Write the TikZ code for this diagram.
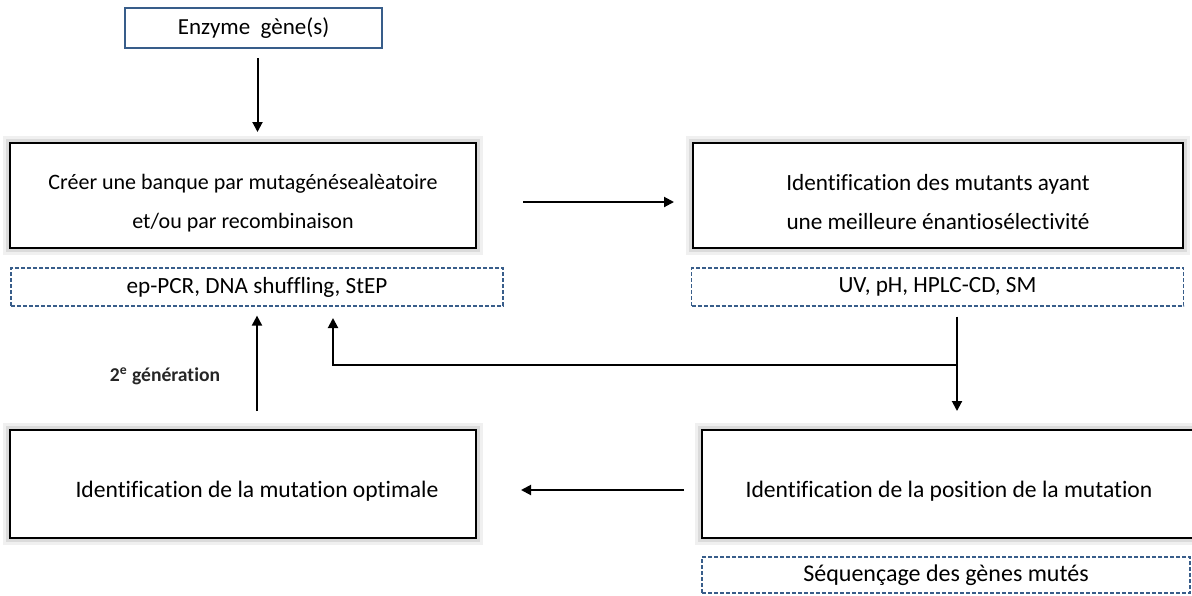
\documentclass[tikz,border=0pt]{standalone}
\usepackage{fontspec}
\setmainfont{Carlito}[Ligatures=NoCommon]
\usetikzlibrary{arrows.meta,positioning}
\definecolor{xnavy}{RGB}{56,93,138}
\newcommand{\lowtext}{\rule{0pt}{15pt}}

\begin{document}
\begin{tikzpicture}[x=0.5pt, y=-0.5pt,
  box/.style={draw=black, line width=1pt, fill=white, inner sep=0pt,
              minimum width=233pt, minimum height=52.5pt,
              font=\fontsize{11.8}{19.5}\selectfont, align=center,
              preaction={draw=black!6, line width=7pt},
              preaction={draw=black!14, line width=4pt}},
  gene/.style={draw=xnavy, line width=1pt, fill=white, inner sep=0pt,
               minimum width=128.5pt, minimum height=20pt,
               font=\fontsize{11.5}{13}\selectfont},
  tech/.style={draw=xnavy, line width=0.6pt, dash pattern=on 2pt off 1pt,
               inner sep=0pt, minimum width=246pt, minimum height=19pt,
               font=\fontsize{11.6}{13}\selectfont},
  arr/.style={-{Triangle[length=5pt, width=5pt]}, line width=1pt, color=black},
  note/.style={font=\fontsize{9.8}{11}\selectfont\bfseries, color=black!85}
]
  \useasboundingbox (0,0) rectangle (1192,595);

  \node[gene] (enz)     at (253.5,28)  {Enzyme\ \ gène(s)};
  \node[box, font=\fontsize{11}{19.5}\selectfont] (lib) at (243,195.5) {\lowtext Créer une banque par mutagénésealèatoire\\et/ou par recombinaison};
  \node[box, minimum width=245pt, font=\fontsize{11.6}{19.5}\selectfont] (scr) at (938,195.5) {\lowtext Identification des mutants ayant\\une meilleure énantiosélectivité};
  \node[tech] (libtech) at (257,287)   {ep-PCR, DNA shuffling, StEP};
  \node[tech] (scrtech) at (937.5,287) {UV, pH, HPLC-CD, SM};
  \node[box, minimum height=54pt] (opt) at (243,484) {\lowtext\hspace*{14pt}Identification de la mutation optimale};
  \node[box, minimum width=247pt, minimum height=54pt] (pos) at (949,484) {\lowtext Identification de la position de la mutation};
  \node[tech, minimum width=244pt, minimum height=18pt, font=\fontsize{12}{13}\selectfont] (seqtech) at (946,575) {Séquençage des gènes mutés};
  \node[note] (gen2)    at (165,376)   {2\textsuperscript{e} génération};
  \coordinate (split) at (957,365);
  \coordinate (back)  at (333,318);

  \draw[arr, shorten <=4.5pt, shorten >=5pt] ([xshift=2pt]enz.south) -- ([xshift=2pt]enz.south |- lib.north);
  \draw[arr, shorten <=23pt, shorten >=9pt] ([yshift=-3.25pt]lib.east) -- ([yshift=-3.25pt]scr.west);
  \draw[arr, shorten <=9pt, shorten >=4.5pt] (libtech.south |- opt.north) -- (libtech.south);
  \draw[arr, shorten <=5pt, shorten >=9pt] (scrtech.south -| split) -- (pos.north -| split);
  \draw[arr] (split) -| (back);
  \draw[arr, shorten <=8.5pt, shorten >=22pt] ([yshift=-3pt]pos.west) -- ([yshift=-3pt]opt.east);
\end{tikzpicture}
\end{document}
